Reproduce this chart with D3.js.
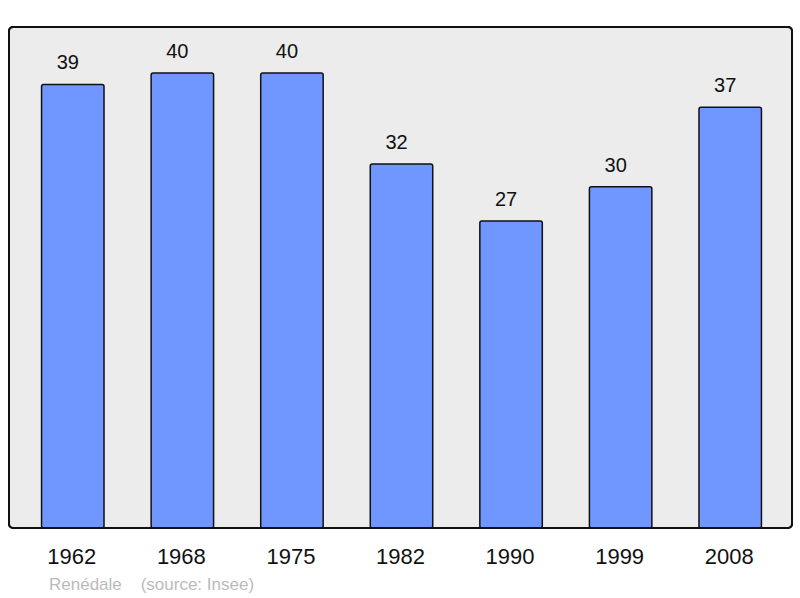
<!DOCTYPE html>
<html>
<head>
<meta charset="utf-8">
<script src="https://cdn.jsdelivr.net/npm/d3@7"></script>
<style>
  body { margin: 0; background: #fff; }
  svg { display: block; font-family: "Liberation Sans", Arial, sans-serif; }
</style>
</head>
<body>
<svg id="chart" width="800" height="598"></svg>
<script>
// Population data
const years = ['1962', '1968', '1975', '1982', '1990', '1999', '2008'];
const population = [39, 40, 40, 32, 27, 30, 37];
const credit = 'Renédale    (source: Insee)';

const svg = d3.select('#chart');

const panel = { left: 9, top: 27, right: 792, bottom: 528 };

svg.append('rect')
  .attr('x', panel.left)
  .attr('y', panel.top)
  .attr('width', panel.right - panel.left)
  .attr('height', panel.bottom - panel.top)
  .attr('rx', 4)
  .attr('fill', '#ececec')
  .attr('stroke', '#111')
  .attr('stroke-width', 2);

const x = d3.scaleBand()
  .domain(years)
  .range([18, 785])
  .paddingInner(0.43)
  .paddingOuter(0.215);

const y = d3.scaleLinear()
  .domain([0, 40])
  .range([panel.bottom, 73]);

const data = years.map((yr, i) => ({ year: yr, value: population[i] }));

svg.append('g')
  .selectAll('rect')
  .data(data)
  .join('rect')
  .attr('x', d => x(d.year))
  .attr('y', d => y(d.value))
  .attr('width', x.bandwidth())
  .attr('height', d => panel.bottom - y(d.value))
  .attr('rx', 2)
  .attr('fill', '#7096ff')
  .attr('stroke', '#111')
  .attr('stroke-width', 1.5);

// value labels (sit a little left of bar centre, as in the original)
svg.append('g')
  .selectAll('text')
  .data(data)
  .join('text')
  .attr('x', d => x(d.year) + x.bandwidth() / 2 - 5)
  .attr('y', d => y(d.value) - 15)
  .attr('text-anchor', 'middle')
  .style('font-size', '20px')
  .style('fill', '#111')
  .text(d => d.value);

// year labels
svg.append('g')
  .selectAll('text')
  .data(years)
  .join('text')
  .attr('x', d => x(d) + x.bandwidth() / 2 - 1)
  .attr('y', 564)
  .attr('text-anchor', 'middle')
  .style('font-size', '22px')
  .style('fill', '#111')
  .text(d => d);

svg.append('text')
  .attr('x', 49)
  .attr('y', 590)
  .style('font-size', '17px')
  .style('fill', '#bbb')
  .style('white-space', 'pre')
  .attr('xml:space', 'preserve')
  .text(credit);

// bring panel border on top of bar bottoms
svg.append('rect')
  .attr('x', panel.left)
  .attr('y', panel.top)
  .attr('width', panel.right - panel.left)
  .attr('height', panel.bottom - panel.top)
  .attr('rx', 4)
  .attr('fill', 'none')
  .attr('stroke', '#111')
  .attr('stroke-width', 2);
</script>
</body>
</html>
